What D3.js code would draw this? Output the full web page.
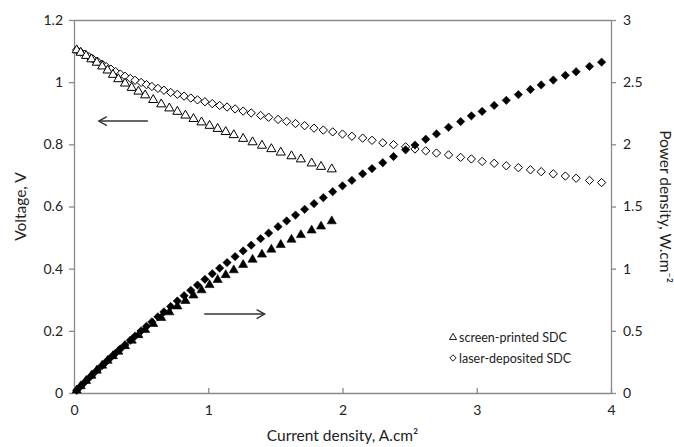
<!DOCTYPE html>
<html><head><meta charset="utf-8">
<script src="https://cdn.jsdelivr.net/npm/d3@7"></script>
<style>body{margin:0;background:#fff}svg{display:block}text{font-family:Lato,"Open Sans",sans-serif;fill:#222}</style>
</head><body><svg id="c" width="674" height="447"></svg>
<script>
// Laser-deposited SDC
const laserJ = [0.02,0.05,0.08,0.11,0.14,0.175,0.21,0.24,0.275,0.31,0.345,0.38,0.42,0.455,0.50,0.54,0.58,0.625,0.67,0.72,0.77,0.82,0.87,0.92,0.975,1.03,1.085,1.14,1.20,1.26,1.32,1.39,1.45,1.52,1.584,1.65,1.718,1.788,1.857,1.927,2.00,2.07,2.15,2.22,2.30,2.38,2.47,2.54,2.62,2.70,2.79,2.88,2.96,3.04,3.13,3.22,3.31,3.40,3.48,3.57,3.66,3.74,3.84,3.93];
const laserV = [1.104,1.097,1.090,1.082,1.075,1.067,1.058,1.050,1.042,1.034,1.026,1.019,1.012,1.006,0.999,0.992,0.986,0.980,0.974,0.967,0.961,0.955,0.949,0.943,0.937,0.931,0.925,0.920,0.914,0.907,0.901,0.893,0.887,0.880,0.874,0.867,0.860,0.852,0.846,0.840,0.833,0.826,0.820,0.813,0.805,0.799,0.792,0.785,0.779,0.772,0.766,0.758,0.753,0.745,0.739,0.731,0.725,0.718,0.712,0.705,0.698,0.691,0.684,0.677];
const laserP = [0.022,0.055,0.087,0.119,0.151,0.187,0.222,0.252,0.287,0.321,0.354,0.387,0.425,0.458,0.500,0.536,0.572,0.613,0.653,0.696,0.740,0.783,0.826,0.868,0.914,0.959,1.004,1.049,1.097,1.143,1.189,1.241,1.286,1.338,1.384,1.431,1.477,1.523,1.571,1.619,1.666,1.710,1.763,1.805,1.852,1.902,1.956,1.994,2.041,2.084,2.137,2.183,2.229,2.265,2.313,2.354,2.400,2.441,2.478,2.517,2.555,2.584,2.627,2.661];
// Screen-printed SDC
const screenJ = [0.02,0.05,0.09,0.13,0.17,0.21,0.25,0.29,0.33,0.38,0.43,0.48,0.53,0.59,0.65,0.71,0.77,0.83,0.89,0.95,1.01,1.07,1.13,1.19,1.26,1.33,1.40,1.47,1.54,1.62,1.69,1.77,1.84,1.92];
const screenV = [1.103,1.095,1.085,1.074,1.063,1.051,1.038,1.024,1.010,0.996,0.982,0.970,0.958,0.943,0.929,0.916,0.905,0.893,0.882,0.871,0.860,0.850,0.840,0.830,0.818,0.807,0.796,0.785,0.774,0.762,0.752,0.739,0.728,0.720];
const screenP = [0.022,0.055,0.098,0.140,0.181,0.221,0.260,0.297,0.333,0.378,0.422,0.466,0.508,0.556,0.604,0.650,0.697,0.741,0.785,0.827,0.869,0.910,0.949,0.988,1.031,1.073,1.114,1.154,1.192,1.234,1.271,1.308,1.340,1.382];

const xTicks = [0,1,2,3,4];
const yLeftTicks = [0,0.2,0.4,0.6,0.8,1,1.2];
const yRightTicks = [0,0.5,1,1.5,2,2.5,3];
const legendLabels = ["screen-printed SDC","laser-deposited SDC"];
// arrows in data coords: [xFrom, xTo, y]
const arrowLeft = [0.55, 0.185, 0.875];
const arrowRight = [0.97, 1.42, 0.635];

const svg = d3.select("#c");
const L=74, R=611, T=20, B=393;
const x = d3.scaleLinear().domain([0,4]).range([L,R]);
const yL = d3.scaleLinear().domain([0,1.2]).range([B,T]);
const yR = d3.scaleLinear().domain([0,3]).range([B,T]);
const axisCol = "#8a8a8a";

svg.append("line").attr("x1",L).attr("x2",R).attr("y1",T+0.5).attr("y2",T+0.5).attr("stroke",axisCol).attr("stroke-width",1.3);

const gx = svg.append("g").attr("transform",`translate(0,${B})`)
  .call(d3.axisBottom(x).tickValues(xTicks).tickFormat(d3.format("d")).tickSizeInner(-5).tickSizeOuter(0).tickPadding(12));
const gl = svg.append("g").attr("transform",`translate(${L},0)`)
  .call(d3.axisLeft(yL).tickValues(yLeftTicks).tickFormat(d=>String(d)).tickSize(5).tickSizeOuter(0).tickPadding(6));
const gr = svg.append("g").attr("transform",`translate(${R},0)`)
  .call(d3.axisRight(yR).tickValues(yRightTicks).tickFormat(d=>String(d)).tickSize(5).tickSizeOuter(0).tickPadding(7));
[gx,gl,gr].forEach(g=>{
  g.selectAll("path.domain").attr("stroke",axisCol).attr("stroke-width",1.3);
  g.selectAll(".tick line").attr("stroke",axisCol).attr("stroke-width",1.3);
  g.selectAll(".tick text").attr("font-size",14).attr("font-family","Lato, sans-serif").attr("fill","#333");
});

const diamond = d3.symbol().type(d3.symbolDiamond2).size(44);
const tri = d3.symbol().type(d3.symbolTriangle).size(36);

function pts(xs, ys, yScale, sym, filled){
  svg.append("g").selectAll("path").data(xs.map((v,i)=>[v,ys[i]])).join("path")
    .attr("d", sym)
    .attr("transform", d=>`translate(${x(d[0])},${yScale(d[1])})`)
    .attr("fill", filled ? "#000" : "#fff")
    .attr("stroke","#000").attr("stroke-width", filled?0.6:1);
}
pts(laserJ, laserV, yL, diamond, false);
pts(screenJ, screenV, yL, tri, false);
pts(laserJ, laserP, yR, diamond, true);
pts(screenJ, screenP, yR, tri, true);

function arrow(x1,x2,yy){
  const g = svg.append("g").attr("stroke","#333").attr("stroke-width",1.4).attr("fill","none");
  g.append("line").attr("x1",x1).attr("x2",x2).attr("y1",yy).attr("y2",yy);
  const dir = x2>x1?1:-1;
  g.append("path").attr("d",`M${x2-dir*8},${yy-4.5}L${x2},${yy}L${x2-dir*8},${yy+4.5}`);
}
arrow(x(arrowLeft[0]), x(arrowLeft[1]), yL(arrowLeft[2]));
arrow(x(arrowRight[0]), x(arrowRight[1]), yR(arrowRight[2]));

const lg = svg.append("g");
const legSyms = [d3.symbol().type(d3.symbolTriangle).size(22), d3.symbol().type(d3.symbolDiamond2).size(26)];
legendLabels.forEach((t,i)=>{
  const yy = 337 + i*21;
  lg.append("path").attr("d",legSyms[i]).attr("transform",`translate(453,${yy+(i==0?0.5:0)})`).attr("fill","#fff").attr("stroke","#000").attr("stroke-width",0.9);
  lg.append("text").attr("x",459).attr("y",yy+4.5).attr("font-size",12.5).text(t);
});

svg.append("text").attr("x",(L+R)/2).attr("y",441).attr("text-anchor","middle").attr("font-size",15.5).text("Current density, A.cm²");
svg.append("text").attr("transform",`translate(26,${(T+B)/2}) rotate(-90)`).attr("text-anchor","middle").attr("font-size",15.5).text("Voltage, V");
svg.append("text").attr("transform",`translate(660,${(T+B)/2}) rotate(90)`).attr("text-anchor","middle").attr("font-size",15.5)
  .text("Power density, W.cm⁻²");
</script></body></html>
